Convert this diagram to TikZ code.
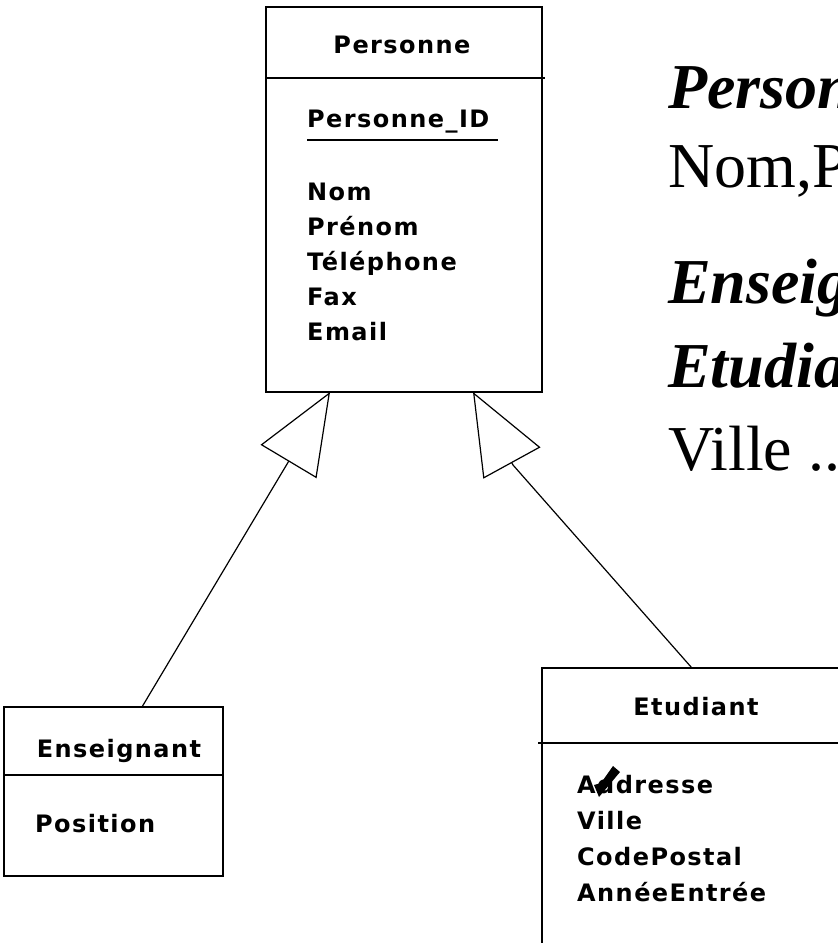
\documentclass[tikz,border=0pt]{standalone}
\usepackage{fontspec}
\setmainfont{Liberation Serif}
\newfontfamily\umlfont[LetterSpace=6]{DejaVu Sans}
\usetikzlibrary{arrows.meta,calc}

\begin{document}
\begin{tikzpicture}[x=1pt,y=-1pt,
  classbox/.style={draw, line width=1.6pt, rectangle, inner sep=0pt, outer sep=0pt, anchor=north west},
  divider/.style={line width=1.5pt},
  umltext/.style={inner sep=0pt, anchor=base west, font=\umlfont\bfseries\fontsize{24}{29}\selectfont},
  umltitle/.style={umltext, anchor=base},
  inherit/.style={line width=1.2pt, -{Triangle[open, length=81pt, width=65pt]}},
  slidetext/.style={inner sep=0pt, anchor=base west, font=\fontsize{64}{76}\selectfont},
  slidehead/.style={slidetext, font=\fontsize{64}{76}\selectfont\bfseries\itshape}
]
\useasboundingbox (0,0) rectangle (838,943);
\clip (0,0) rectangle (838,943);

% ---- class Personne ----
\node[classbox, minimum width=276pt, minimum height=385pt] (pers) at (266,7) {};
\draw[divider] (266,78) -- (545,78);
\node[umltitle] (persT) at (402,53) {Personne};
\node[umltext] (persId) at (307,127) {Personne\_ID};
\draw[line width=1.3pt] (307,140) -- (498,140);
\node[umltext] (persA1) at (307,200) {Nom};
\node[umltext] (persA2) at (307,235) {Prénom};
\node[umltext] (persA3) at (307,270) {Téléphone};
\node[umltext] (persA4) at (307,305) {Fax};
\node[umltext] (persA5) at (307,340) {Email};

% ---- class Enseignant ----
\node[classbox, minimum width=219pt, minimum height=169pt] (ens) at (4,707) {};
\draw[divider] (4,775) -- (223,775);
\node[umltitle] (ensT) at (119,757) {Enseignant};
\node[umltext] (ensA1) at (35,832) {Position};

% ---- class Etudiant ----
\node[classbox, minimum width=306pt, minimum height=292pt] (etu) at (542,668) {};
\draw[divider] (538,743) -- (848,743);
\node[umltitle] (etuT) at (696,715) {Etudiant};
\node[umltext] (etuA1) at (577,793) {Addresse};
\node[umltext] (etuA2) at (577,829) {Ville};
\node[umltext] (etuA3) at (577,865) {CodePostal};
\node[umltext] (etuA4) at (577,901) {AnnéeEntrée};
% pen mark over the first letters of Addresse
\fill (594,785) -- (599,797) -- (620,772) -- (613,766) -- (601,783) -- cycle;

% ---- generalisation links ----
\coordinate (etuBend) at (513,465);
\draw[inherit] ($(ens.north west)!0.63!(ens.north east)$) -- ($(pers.south west)!0.232!(pers.south east)$);
\draw[inherit] ($(etu.north west)!0.49!(etu.north east)$) -- (etuBend) -- ($(pers.south west)!0.75!(pers.south east)$);

% ---- relational schema text ----
\node[slidehead] (relPers) at (668,108) {Personne};
\node[slidetext] (relPersAttr) at (668,187) {Nom,Prénom};
\node[slidehead] (relEns) at (668,303) {Enseignant};
\node[slidehead] (relEtu) at (668,387) {Etudiant};
\node[slidetext] (relEtuAttr) at (668,470) {Ville ...};
\end{tikzpicture}
\end{document}
